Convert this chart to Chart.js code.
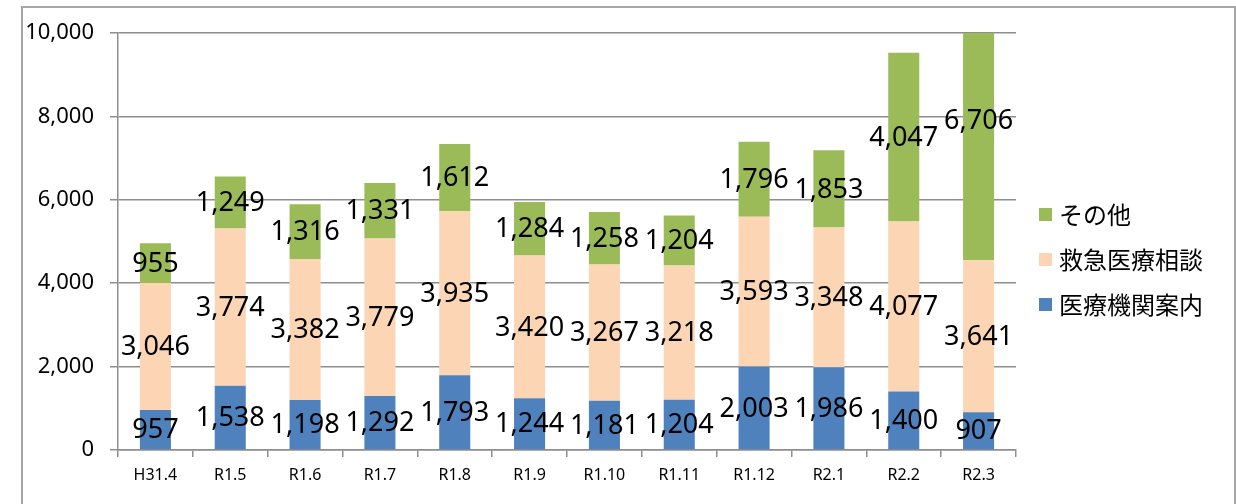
<!DOCTYPE html>
<html>
<head>
<meta charset="utf-8">
<script src="https://cdn.jsdelivr.net/npm/chart.js@4/dist/chart.umd.min.js"></script>
<style>
  html, body { margin: 0; padding: 0; background: #fff; }
  #wrap { position: relative; width: 1236px; height: 504px; overflow: hidden; }
  #frame { position: absolute; left: 21px; top: 6px; width: 1211px; height: 600px; border: 2px solid #a6a6a6; }
  canvas { position: absolute; left: 0; top: 0; }
</style>
</head>
<body>
<div id="wrap">
  <div id="frame"></div>
  <canvas id="barChart" width="1236" height="504"></canvas>
</div>
<script>
// months
const months = ['H31.4', 'R1.5', 'R1.6', 'R1.7', 'R1.8', 'R1.9', 'R1.10', 'R1.11', 'R1.12', 'R2.1', 'R2.2', 'R2.3'];

// 医療機関案内
const hospitalGuide = [957, 1538, 1198, 1292, 1793, 1244, 1181, 1204, 2003, 1986, 1400, 907];
// 救急医療相談
const emergencyConsult = [3046, 3774, 3382, 3779, 3935, 3420, 3267, 3218, 3593, 3348, 4077, 3641];
// その他
const others = [955, 1249, 1316, 1331, 1612, 1284, 1258, 1204, 1796, 1853, 4047, 6706];

const seriesNames = ['医療機関案内', '救急医療相談', 'その他'];
const yTicks = [0, 2000, 4000, 6000, 8000, 10000];

const labelFont = '27px "Noto Sans", sans-serif';
const legendFont = '24px "Noto Sans CJK JP", sans-serif';

// value labels in the middle of each segment
const valueLabels = {
    id: 'valueLabels',
    afterDatasetsDraw(chart) {
        const ctx = chart.ctx;
        ctx.save();
        ctx.font = labelFont;
        ctx.fillStyle = '#000';
        ctx.textAlign = 'center';
        ctx.textBaseline = 'middle';
        chart.data.datasets.forEach((ds, i) => {
            const meta = chart.getDatasetMeta(i);
            meta.data.forEach((bar, j) => {
                const v = ds.data[j];
                const y = (bar.y + bar.base) / 2;
                ctx.fillText(v.toLocaleString('en-US'), bar.x, y + 1);
            });
        });
        ctx.restore();
    }
};

// legend on the right, top item = last dataset
const sideLegend = {
    id: 'sideLegend',
    afterDraw(chart) {
        const ctx = chart.ctx;
        ctx.save();
        ctx.font = legendFont;
        ctx.textBaseline = 'middle';
        const items = chart.data.datasets.slice().reverse();
        items.forEach((ds, k) => {
            const y = 214 + k * 45;
            ctx.fillStyle = ds.backgroundColor;
            ctx.fillRect(1039, y - 6, 13, 13);
            ctx.fillStyle = '#000';
            ctx.fillText(ds.label, 1059, y + 1);
        });
        ctx.restore();
    }
};

new Chart(document.getElementById('barChart'), {
    type: 'bar',
    data: {
        labels: months,
        datasets: [
            { label: seriesNames[0], data: hospitalGuide, backgroundColor: '#4F81BD' },
            { label: seriesNames[1], data: emergencyConsult, backgroundColor: '#FCD5B5' },
            { label: seriesNames[2], data: others, backgroundColor: '#9BBB59' }
        ]
    },
    options: {
        responsive: false,
        animation: false,
        layout: { padding: { left: 0, right: 220, top: 33, bottom: 0 } },
        datasets: { bar: { categoryPercentage: 1, barPercentage: 0.415 } },
        plugins: {
            legend: { display: false },
            tooltip: { enabled: false }
        },
        scales: {
            x: {
                stacked: true,
                afterFit(scale) { scale.height = 54; },
                grid: {
                    offset: true,
                    drawOnChartArea: false,
                    drawTicks: true,
                    tickLength: 7,
                    color: '#8e8e8e',
                    lineWidth: 1.5
                },
                border: { color: '#8e8e8e', width: 1.5 },
                ticks: {
                    color: '#000',
                    padding: 9,
                    maxRotation: 0,
                    font: { family: '"Noto Sans", sans-serif', size: 16 }
                }
            },
            y: {
                stacked: true,
                min: 0,
                max: 10000,
                afterFit(scale) { scale.width = 118; },
                afterBuildTicks(scale) { scale.ticks = yTicks.map(v => ({ value: v })); },
                grid: {
                    color: '#8e8e8e',
                    lineWidth: 1.5,
                    tickLength: 8
                },
                border: { color: '#8e8e8e', width: 1.5 },
                ticks: {
                    color: '#000',
                    padding: 16,
                    font: { family: '"Noto Sans", sans-serif', size: 22 },
                    callback: v => v.toLocaleString('en-US')
                }
            }
        }
    },
    plugins: [valueLabels, sideLegend]
});
</script>
</body>
</html>
